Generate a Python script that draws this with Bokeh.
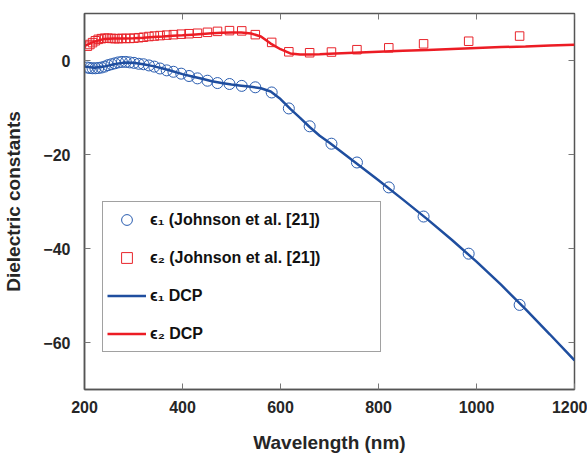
import math
from bokeh.plotting import figure
from bokeh.models import Legend, LegendItem, FixedTicker, Range1d
from bokeh.embed import file_html
from bokeh.resources import INLINE

# Johnson et al. data
wl_jc = [205.9, 211.0, 216.4, 222.2, 228.0, 234.5, 241.1, 248.0, 255.1, 262.0,
         269.2, 276.4, 284.4, 292.4, 300.9, 310.7, 320.4, 331.5, 342.5, 354.2,
         367.8, 381.5, 397.4, 413.3, 430.5, 450.9, 471.4, 495.9, 520.9, 548.6,
         582.0, 617.0, 659.5, 704.0, 756.0, 821.0, 892.0, 984.0, 1088.0]
eps1_jc = [-1.5, -1.6, -1.65, -1.65, -1.6, -1.5, -1.3, -1.0, -0.8, -0.6,
           -0.4, -0.3, -0.3, -0.4, -0.5, -0.7, -0.8, -1.05, -1.3, -1.7,
           -2.1, -2.4, -2.8, -3.3, -3.8, -4.3, -4.8, -5.0, -5.4, -5.7,
           -6.8, -10.2, -14.0, -17.7, -21.7, -27.0, -33.2, -41.1, -52.0]
eps2_jc = [3.05, 3.4, 3.8, 4.2, 4.5, 4.65, 4.75, 4.75, 4.7, 4.65,
           4.65, 4.7, 4.7, 4.7, 4.75, 4.85, 4.95, 5.1, 5.2, 5.3,
           5.4, 5.5, 5.6, 5.7, 5.8, 6.0, 6.2, 6.35, 6.3, 5.5,
           3.85, 1.85, 1.65, 1.8, 2.3, 2.7, 3.55, 4.1, 5.2]

# DCP model curves
wl_dcp = [200, 220, 240, 260, 280, 300, 320, 340, 360, 380, 400, 420, 440, 460,
          480, 500, 520, 540, 560, 580, 600, 620, 640, 660, 680, 700, 750, 800,
          850, 900, 950, 1000, 1050, 1100, 1150, 1200]
eps1_dcp = [-1.3, -1.55, -1.3, -0.8, -0.45, -0.5, -0.8, -1.2, -1.7, -2.3, -2.9,
            -3.4, -3.9, -4.4, -4.8, -5.1, -5.35, -5.6, -5.9, -6.6, -8.2, -10.3,
            -12.2, -14.2, -16.0, -17.5, -21.5, -25.5, -29.6, -33.8, -38.2, -42.8,
            -47.7, -52.9, -58.3, -63.8]
eps2_dcp = [3.1, 4.0, 4.6, 4.7, 4.7, 4.75, 4.85, 5.0, 5.1, 5.25, 5.35, 5.5,
            5.65, 5.8, 5.9, 5.95, 5.95, 5.75, 5.1, 3.6, 2.4, 1.5, 1.3, 1.3,
            1.35, 1.45, 1.65, 1.85, 2.05, 2.25, 2.45, 2.65, 2.85, 3.0, 3.2, 3.35]

x_ticks = [200, 400, 600, 800, 1000, 1200]
y_ticks = [-60, -40, -20, 0]
X_MIN, X_MAX = 200, 1200
Y_MIN, Y_MAX = -70, 10

labels = ["\u03f5\u2081 (Johnson et al. [21])", "\u03f5\u2082 (Johnson et al. [21])",
          "\u03f5\u2081 DCP", "\u03f5\u2082 DCP"]

BLUE = "#1f4e9f"
RED = "#ec1c24"
FONT = "Liberation Sans"
AX = "#555555"
TICK = "#777777"

p = figure(width=587, height=456, x_range=Range1d(X_MIN, X_MAX), y_range=Range1d(Y_MIN, Y_MAX),
           output_backend="svg", toolbar_location=None,
           min_border_left=83, min_border_right=13, min_border_top=13, min_border_bottom=67)
p.grid.visible = False
p.outline_line_color = AX
p.outline_line_width = 1.5

for ax in (p.xaxis[0], p.yaxis[0]):
    ax.major_label_text_font = FONT
    ax.major_label_text_font_style = "bold"
    ax.major_label_text_font_size = "16px"
    ax.major_label_text_color = "#262626"
    ax.axis_label_text_font = FONT
    ax.axis_label_text_font_style = "bold"
    ax.axis_label_text_font_size = "19px"
    ax.axis_label_text_color = "#262626"
    ax.major_tick_in = 6
    ax.major_tick_out = 0
    ax.minor_tick_line_color = None
    ax.axis_line_color = AX
    ax.major_tick_line_color = TICK
    ax.axis_line_width = 1.5

p.xaxis[0].ticker = FixedTicker(ticks=x_ticks)
p.yaxis[0].ticker = FixedTicker(ticks=y_ticks)
p.xaxis[0].axis_label = "Wavelength (nm)"
p.yaxis[0].axis_label = "Dielectric constants"
p.xaxis[0].major_label_standoff = 11
p.yaxis[0].major_label_standoff = 14
p.xaxis[0].axis_label_standoff = 16
p.yaxis[0].axis_label_standoff = 16

# inward ticks on the top and right edges of the box
p.ray(x=x_ticks, y=[Y_MAX] * len(x_ticks), length=6, length_units="screen",
      angle=-math.pi / 2, line_color=TICK, line_width=1)
p.ray(x=[X_MAX] * len(y_ticks), y=y_ticks, length=6, length_units="screen",
      angle=math.pi, line_color=TICK, line_width=1)

c1 = p.scatter(wl_jc, eps1_jc, marker="circle", size=11, fill_color=None,
               line_color="#2a5db0", line_width=1)
s2 = p.scatter(wl_jc, eps2_jc, marker="square", size=8.5, fill_color=None,
               line_color="#e8242b", line_width=1)
l1 = p.line(wl_dcp, eps1_dcp, line_color=BLUE, line_width=2.5)
l2 = p.line(wl_dcp, eps2_dcp, line_color=RED, line_width=2.5)

legend = Legend(items=[LegendItem(label=labels[0], renderers=[c1]),
                       LegendItem(label=labels[1], renderers=[s2]),
                       LegendItem(label=labels[2], renderers=[l1]),
                       LegendItem(label=labels[3], renderers=[l2])],
                location=(18, 37))
legend.label_text_font = FONT
legend.label_text_font_style = "bold"
legend.label_text_font_size = "16px"
legend.label_text_color = "#111111"
legend.glyph_width = 39
legend.glyph_height = 27
legend.label_height = 27
legend.label_width = 226
legend.label_standoff = 4
legend.spacing = 11
legend.padding = 4
legend.margin = 0
legend.border_line_color = "#444444"
legend.border_line_width = 1
legend.background_fill_alpha = 1
p.add_layout(legend)

open("out.html", "w").write(file_html(p, INLINE))
